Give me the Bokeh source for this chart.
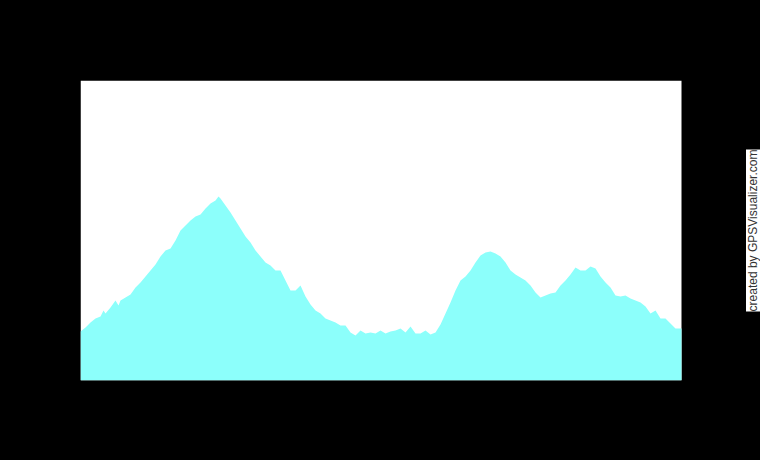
import math
from bokeh.plotting import figure
from bokeh.models import Range1d, Label, BoxAnnotation, ColumnDataSource
from bokeh.embed import file_html
from bokeh.resources import INLINE

# Distance along the track (km) and elevation (m, relative)
distance = [0.0, 0.5, 1.0, 1.5, 2.0, 2.3, 2.5, 3.0, 3.5, 3.8, 4.0, 4.5, 5.0, 5.5,
            6.0, 6.5, 7.0, 7.5, 8.0, 8.5, 9.0, 9.5, 10.0, 10.5, 11.0, 11.5, 12.0,
            12.5, 13.0, 13.5, 13.8, 14.0, 14.5, 15.0, 15.5, 16.0, 16.5, 17.0, 17.5,
            18.0, 18.5, 19.0, 19.5, 20.0, 20.5, 21.0, 21.5, 22.0, 22.5, 23.0, 23.5,
            24.0, 24.5, 25.0, 25.5, 26.0, 26.5, 27.0, 27.5, 28.0, 28.5, 29.0, 29.5,
            30.0, 30.5, 31.0, 31.5, 32.0, 32.5, 33.0, 33.5, 34.0, 34.5, 35.0, 35.5,
            36.0, 36.5, 37.0, 37.5, 38.0, 38.5, 39.0, 39.5, 40.0, 40.5, 41.0, 41.5,
            42.0, 42.5, 43.0, 43.5, 44.0, 44.5, 45.0, 45.5, 46.0, 46.5, 47.0, 47.5,
            48.0, 48.5, 49.0, 49.5, 50.0, 50.5, 51.0, 51.5, 52.0, 52.5, 53.0, 53.5,
            54.0, 54.5, 55.0, 55.5, 56.0, 56.5, 57.0, 57.5, 58.0, 58.5, 59.0, 59.5,
            60.0, 60.1]
elevation = [49, 53, 58, 62, 64, 70, 67, 73, 80, 75, 80, 83, 86, 93,
             98, 104, 110, 116, 124, 130, 132, 140, 150, 155, 160, 164, 166,
             172, 177, 180, 184, 182, 175, 168, 160, 152, 144, 138, 130,
             124, 118, 115, 110, 110, 100, 90, 90, 95, 84, 76, 70,
             67, 62, 60, 58, 55, 55, 48, 45, 50, 47, 48, 47,
             50, 47, 49, 50, 52, 48, 54, 47, 47, 50, 46, 48,
             56, 67, 78, 90, 100, 104, 110, 118, 125, 128, 129, 127,
             124, 118, 110, 106, 103, 100, 95, 88, 83, 85, 87, 88,
             95, 100, 106, 113, 110, 110, 114, 112, 104, 98, 93, 85,
             84, 85, 82, 80, 78, 74, 67, 70, 62, 62, 57, 52,
             52, 52]
elev_axis_max = 300

credit = "created by GPSVisualizer.com"

src = ColumnDataSource(data=dict(d=distance, e=elevation, z=[0] * len(distance)))

d0, d1 = distance[0], distance[-1]
span = d1 - d0
# frame runs to the right edge of the page; plot region is 601 of 680 px
x_end = d0 + span * 680 / 601

p = figure(width=760, height=460, output_backend="svg", toolbar_location=None,
           x_range=Range1d(d0, x_end), y_range=Range1d(0, elev_axis_max),
           min_border_left=80, min_border_right=0, min_border_top=80,
           min_border_bottom=80)
p.background_fill_color = "black"
p.border_fill_color = "black"
p.outline_line_color = None
p.xgrid.visible = False
p.ygrid.visible = False
p.xaxis.visible = False
p.yaxis.visible = False

plot_bg = BoxAnnotation(left=d0, right=d1, bottom=0, top=elev_axis_max,
                        fill_color="white", fill_alpha=1.0, line_color=None,
                        level="underlay")
p.add_layout(plot_bg)

p.varea(x="d", y1="z", y2="e", source=src, fill_color="#8cfffb", fill_alpha=1.0)

lab = Label(x=d0 + span * 672.5 / 601, y=elev_axis_max / 2, text=credit,
            angle=math.pi / 2, text_align="center", text_baseline="middle",
            text_font="Liberation Sans", text_font_size="12px",
            text_color="#333333",
            background_fill_color="white", background_fill_alpha=1.0)
p.add_layout(lab)

TEMPLATE = """{% block preamble %}<style>html,body{background:#000 !important;margin:0 !important;padding:0 !important;overflow:hidden !important}</style>{% endblock %}"""

open("out.html", "w").write(file_html(p, INLINE, template=TEMPLATE))
